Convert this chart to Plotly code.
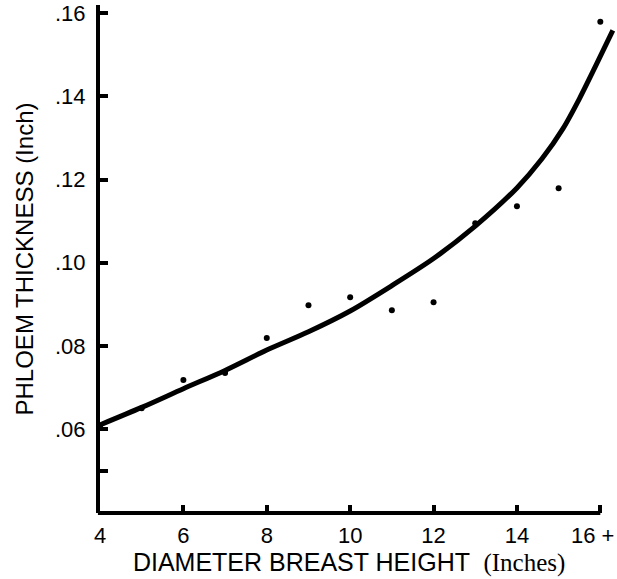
import plotly.graph_objects as go

# observed means (dots)
dbh_points = [4, 5, 6, 7, 8, 9, 10, 11, 12, 13, 14, 15, 16]
thickness_points = [0.0605, 0.0650, 0.0718, 0.0735, 0.0819, 0.0898, 0.0917,
                    0.0886, 0.0905, 0.1095, 0.1136, 0.1179, 0.1580]

# fitted curve
curve_dbh = [4.0, 5.0, 6.0, 7.0, 8.0, 9.0, 10.0, 11.0, 12.0, 13.0, 14.0, 14.6, 15.1, 15.5, 15.9, 16.3]
curve_thickness = [0.0610, 0.0652, 0.0697, 0.0741, 0.0790, 0.0834, 0.0884, 0.0945,
                   0.1010, 0.1088, 0.1180, 0.1250, 0.1322, 0.1395, 0.1476, 0.1559]

x_tickvals = [4, 6, 8, 10, 12, 14, 16]
x_ticktext = ["4", "6", "8", "10", "12", "14", ""]
last_tick_label = "16 +"   # sits at the right edge, placed as an annotation so it is not cut
y_tickvals = [0.05, 0.06, 0.08, 0.10, 0.12, 0.14, 0.16]
y_ticktext = ["", ".06", ".08", ".10", ".12", ".14", ".16"]

Y_MIN, Y_MAX = 0.0398, 0.162
X_MIN, X_MAX = 4, 16.4
FONT = "Liberation Sans, Arial, sans-serif"
SERIF = "Liberation Serif, Times New Roman, serif"

fig = go.Figure()

fig.add_trace(go.Scatter(
    x=curve_dbh, y=curve_thickness,
    mode="lines",
    line=dict(color="black", width=5, shape="spline", smoothing=0.8),
    hoverinfo="skip",
))

fig.add_trace(go.Scatter(
    x=dbh_points, y=thickness_points,
    mode="markers",
    marker=dict(color="black", size=6),
    cliponaxis=False,
))

# x axis line stops at 16+, so draw it as a paper shape
x_end = (16 - X_MIN) / (X_MAX - X_MIN)
fig.add_shape(type="line", xref="paper", yref="paper", x0=-0.004, x1=x_end, y0=0, y1=0,
              line=dict(color="black", width=4))

fig.add_annotation(text=last_tick_label, xref="paper", yref="paper", x=1, y=0,
                   xanchor="right", yanchor="top", xshift=-1, yshift=-8,
                   showarrow=False, font=dict(size=22, family=FONT, color="black"))

fig.update_layout(
    width=617, height=579,
    margin=dict(l=100, r=0, t=5, b=66),
    paper_bgcolor="white", plot_bgcolor="white",
    showlegend=False,
    font=dict(family=FONT, color="black"),
)

fig.update_xaxes(
    range=[X_MIN, X_MAX], automargin=False,
    showgrid=False, zeroline=False, showline=False,
    tickmode="array", tickvals=x_tickvals, ticktext=x_ticktext,
    ticks="inside", ticklen=8, tickwidth=4, tickcolor="black",
    tickfont=dict(size=22, family=FONT),
    ticklabelstandoff=7,
    title=dict(text=f'DIAMETER BREAST HEIGHT  <span style="font-family:{SERIF}">(Inches)&nbsp;&nbsp;&nbsp;</span>',
               font=dict(size=25, family=FONT), standoff=4),
)

fig.update_yaxes(
    range=[Y_MIN, Y_MAX], automargin=False,
    showgrid=False, zeroline=False,
    showline=True, linewidth=4, linecolor="black",
    tickmode="array", tickvals=y_tickvals, ticktext=y_ticktext,
    ticks="inside", ticklen=8, tickwidth=4, tickcolor="black",
    tickfont=dict(size=22, family=FONT),
    ticklabelstandoff=6,
    title=dict(text="PHLOEM THICKNESS (Inch)", font=dict(size=24, family=FONT), standoff=16),
)

# drop the default 8px body margin so the figure sits at the page origin
fig.write_html("out.html", config={"displayModeBar": False},
               post_script="document.body.style.margin='0';")
